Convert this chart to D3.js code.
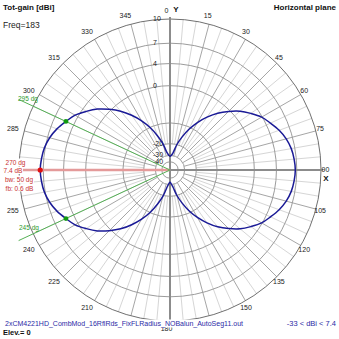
<!DOCTYPE html>
<html><head><meta charset="utf-8">
<script src="https://cdn.jsdelivr.net/npm/d3@7"></script>
<style>
html,body{margin:0;padding:0;background:#fff;}
svg{display:block;font-family:"Liberation Sans",Arial,sans-serif;}
</style></head><body>
<svg id="chart" width="339" height="339"></svg>
<script>
// Horizontal-plane total gain (dBi), azimuth 0 at top, clockwise, 5 degree steps
const azimuths = d3.range(0, 360, 5);
const gains = [
  -31.0, -30.0, -27.0, -20.1, -15.1, -10.8,  -7.4,  -4.6,  -2.2,  -0.3,
    1.4,   2.7,   3.9,   4.7,   5.5,   6.1,   6.5,   6.7,   6.8,   6.7,
    6.5,   6.1,   5.5,   4.7,   3.9,   2.7,   1.4,  -0.3,  -2.2,  -4.6,
   -7.4, -10.8, -15.1, -20.1, -27.0, -31.0, -33.0, -31.0, -26.7, -19.5,
  -14.5, -10.2,  -6.8,  -4.0,  -1.6,   0.3,   2.0,   3.3,   4.5,   5.3,
    6.1,   6.7,   7.1,   7.3,   7.4,   7.3,   7.1,   6.7,   6.1,   5.3,
    4.5,   3.3,   2.0,   0.3,  -1.6,  -4.0,  -6.8, -10.2, -14.5, -19.5,
  -26.7, -29.8
];
// Gain rings (dBi) and the ones that carry a label
const ringValues = [10, 7, 4, 0, -10, -20, -30, -40];
const labelledRings = [10, 7, 4, 0, -20, -30, -40];
// Azimuth labels
const angleTicks = [0, 15, 30, 45, 60, 75, 90, 105, 120, 135, 150, 180, 210, 225, 240, 255, 285, 300, 315, 330, 345];
// Main lobe and half-power markers
const peakAzimuth = 270, peakGain = 7.4;
const halfPowerAz = [295, 245];
const halfPowerGain = [5.3, 5.3];
const summary = ["270 dg", "7.4 dB", "bw: 50 dg", "fb: 0.6 dB"];
const title = "Tot-gain [dBi]", freqText = "Freq=183", planeText = "Horizontal plane";
const fileText = "2xCM4221HD_CombMod_16RflRds_FixFLRadius_NOBalun_AutoSeg11.out";
const rangeText = "-33 < dBi < 7.4", elevText = "Elev.= 0";

const svg = d3.select("#chart");
const cx = 170, cy = 170, R = 151;

// ARRL-style log radial scale: 0.89^(dB/2) per step below the outer ring
const radial = d3.scaleLog().domain([R * Math.pow(0.89, 25), R]).range([-40, 10]);
const rad = v => radial.invert(v);
const ang = d3.scaleLinear().domain([0, 360]).range([0, 2 * Math.PI]);
const px = (az, r) => cx + r * Math.sin(ang(az));
const py = (az, r) => cy - r * Math.cos(ang(az));

svg.append("rect").attr("width", 339).attr("height", 339).attr("fill", "#fff");
const g = svg.append("g");

// fine radial lines every 5 degrees
d3.range(0, 360, 5).filter(a => a % 15 !== 0).forEach(a => {
  g.append("line").attr("x1", px(a, rad(-20))).attr("y1", py(a, rad(-20)))
    .attr("x2", px(a, R)).attr("y2", py(a, R))
    .attr("stroke", "#d6d6d6").attr("stroke-width", 1);
});
// radial lines every 15 degrees
d3.range(0, 360, 15).filter(a => a % 90 !== 0).forEach(a => {
  g.append("line").attr("x1", px(a, rad(-30))).attr("y1", py(a, rad(-30)))
    .attr("x2", px(a, R)).attr("y2", py(a, R))
    .attr("stroke", "#a6a6a6").attr("stroke-width", 1);
});
// gain rings
ringValues.forEach((v, i) => {
  g.append("circle").attr("cx", cx).attr("cy", cy).attr("r", rad(v))
    .attr("fill", "none").attr("stroke", i === 0 ? "#707070" : "#9c9c9c").attr("stroke-width", 1);
});
// main axes
[0, 90].forEach(a => {
  g.append("line").attr("x1", px(a, R + 2)).attr("y1", py(a, R + 2))
    .attr("x2", px(a + 180, R + 2)).attr("y2", py(a + 180, R + 2))
    .attr("stroke", "#8c8c8c").attr("stroke-width", 2);
});

// ring labels
labelledRings.forEach(v => {
  g.append("text").attr("x", 153).attr("y", cy - rad(v) - 0.5)
    .attr("dominant-baseline", "central").attr("font-size", 7).attr("fill", "#222")
    .text(v);
});

// azimuth labels
angleTicks.forEach(a => {
  g.append("text").attr("x", px(a, 159) - 3.5).attr("y", py(a, 159) - 0.5)
    .attr("text-anchor", "middle").attr("dominant-baseline", "central")
    .attr("font-size", 7).attr("fill", "#222").text(a);
});
g.append("text").attr("x", 176).attr("y", 9).attr("text-anchor", "middle").attr("dominant-baseline", "central")
  .attr("font-size", 8).attr("font-weight", "bold").attr("fill", "#111").text("Y");
g.append("text").attr("x", 326).attr("y", 178).attr("text-anchor", "middle").attr("dominant-baseline", "central")
  .attr("font-size", 8).attr("font-weight", "bold").attr("fill", "#111").text("X");

// peak direction line
g.append("line").attr("x1", cx).attr("y1", cy)
  .attr("x2", px(peakAzimuth, 167)).attr("y2", py(peakAzimuth, 167))
  .attr("stroke", "#e49a9a").attr("stroke-width", 2.5);
// half-power direction lines
halfPowerAz.forEach(a => {
  g.append("line").attr("x1", cx).attr("y1", cy)
    .attr("x2", px(a, 167)).attr("y2", py(a, 167))
    .attr("stroke", "#55b055").attr("stroke-width", 1);
});

// radiation pattern
const pts = azimuths.map((a, i) => ({az: a, g: gains[i]}));
const line = d3.lineRadial().angle(d => ang(d.az)).radius(d => rad(d.g))
  .curve(d3.curveCatmullRomClosed.alpha(0.5));
g.append("path").attr("transform", `translate(${cx},${cy})`).attr("d", line(pts))
  .attr("fill", "none").attr("stroke", "#1a1a96").attr("stroke-width", 1.5);

// markers
g.append("circle").attr("cx", px(peakAzimuth, rad(peakGain))).attr("cy", py(peakAzimuth, rad(peakGain)))
  .attr("r", 2.6).attr("fill", "#e01010");
halfPowerAz.forEach((a, i) => {
  g.append("circle").attr("cx", px(a, rad(halfPowerGain[i]))).attr("cy", py(a, rad(halfPowerGain[i])))
    .attr("r", 2.4).attr("fill", "#119911");
});

// text with optional opaque background
function boxed(x, y, str, opts) {
  const t = g.append("text").attr("x", x).attr("y", y).attr("dominant-baseline", "central")
    .attr("text-anchor", opts.anchor || "start").attr("font-size", opts.size)
    .attr("font-weight", opts.weight || "normal").attr("fill", opts.color).text(str);
  if (opts.bg) {
    const b = t.node().getBBox();
    g.insert("rect", () => t.node()).attr("x", b.x - 0.5).attr("y", b.y).attr("width", b.width + 1)
      .attr("height", b.height).attr("fill", "#fff");
  }
  return t;
}

// half-power labels
boxed(18, 98, halfPowerAz[0] + " dg", {size: 6.5, color: "#2e9a2e"});
boxed(19, 227, halfPowerAz[1] + " dg", {size: 6.5, color: "#2e9a2e"});
// peak summary
boxed(15.5, 162, summary[0], {size: 6.5, color: "#c83030", anchor: "middle", bg: true});
boxed(13, 170.5, summary[1], {size: 6.5, color: "#c83030", anchor: "middle", bg: true});
boxed(19, 179, summary[2], {size: 6.5, color: "#c83030", anchor: "middle", bg: true});
boxed(19.5, 188, summary[3], {size: 6.5, color: "#c83030", anchor: "middle", bg: true});

// header and footer
boxed(3, 7, title, {size: 8, weight: "bold", color: "#111", bg: true});
boxed(3, 25, freqText, {size: 8.5, color: "#222", bg: true});
boxed(336, 7, planeText, {size: 8, weight: "bold", color: "#111", anchor: "end", bg: true});
boxed(5, 323, fileText, {size: 7, color: "#2a2aa6", bg: true});
boxed(336, 323, rangeText, {size: 7.5, color: "#2a2aa6", anchor: "end", bg: true});
boxed(3, 332, elevText, {size: 7.5, weight: "bold", color: "#111"});
</script>
</body></html>
